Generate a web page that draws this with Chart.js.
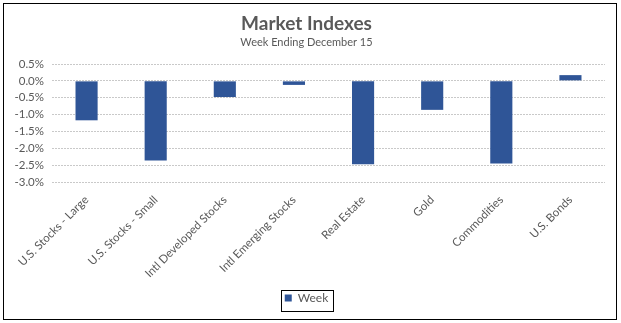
<!DOCTYPE html>
<html>
<head>
<meta charset="utf-8">
<script src="https://cdn.jsdelivr.net/npm/chart.js@4"></script>
<style>
  html, body { margin: 0; padding: 0; background: #fff; }
  #wrap { position: absolute; left: 0; top: 0; width: 621px; height: 323px; }
</style>
</head>
<body>
<div id="wrap"><canvas id="chart" width="621" height="323"></canvas></div>
<script>
// données
const categories = ['U.S. Stocks - Large', 'U.S. Stocks - Small', 'Intl Developed Stocks', 'Intl Emerging Stocks',
  'Real Estate', 'Gold', 'Commodities', 'U.S. Bonds'];
const weekReturns = [-1.17, -2.36, -0.48, -0.12, -2.47, -0.86, -2.45, 0.17];
const yTicks = [0.5, 0.0, -0.5, -1.0, -1.5, -2.0, -2.5, -3.0];

const textColor = '#595959';
const fontFamily = 'Lato, "Open Sans", sans-serif';

// cadre noir autour du graphique + cadre de la légende
const framePlugin = {
  id: 'frame',
  afterDraw(chart) {
    const ctx = chart.ctx;
    ctx.save();
    ctx.strokeStyle = '#000';
    ctx.lineWidth = 1;
    ctx.strokeRect(3.5, 3.5, 613, 316);
    const lg = chart.legend;
    if (lg) {
      ctx.strokeRect(Math.round(lg.left + lg.width / 2 - 26) + 0.5, 290.5, 52, 21);
    }
    ctx.restore();
  }
};

new Chart(document.getElementById('chart'), {
  type: 'bar',
  data: {
    labels: categories,
    datasets: [{
      label: 'Week',
      data: weekReturns,
      backgroundColor: '#2f5597',
      borderWidth: 0,
      categoryPercentage: 1,
      barPercentage: 0.32
    }]
  },
  options: {
    responsive: false,
    animation: false,
    layout: { padding: { left: 8, right: 16, top: 6, bottom: 9 } },
    plugins: {
      title: {
        display: true,
        text: 'Market Indexes',
        color: textColor,
        font: { family: fontFamily, size: 19, weight: 'bold' },
        padding: { top: 6, bottom: 0 }
      },
      subtitle: {
        display: true,
        text: 'Week Ending December 15',
        color: textColor,
        font: { family: fontFamily, size: 11 },
        padding: { top: 1, bottom: 15 }
      },
      legend: {
        position: 'bottom',
        labels: {
          color: textColor,
          font: { family: fontFamily, size: 12 },
          boxWidth: 7,
          boxHeight: 7,
          padding: 8
        }
      },
      tooltip: { enabled: false }
    },
    scales: {
      x: {
        afterFit: (axis) => { axis.height = 102; },
        grid: { display: false },
        border: { display: false },
        ticks: {
          color: textColor,
          font: { family: fontFamily, size: 11.5 },
          minRotation: 45,
          maxRotation: 45,
          autoSkip: false
        }
      },
      y: {
        min: -3,
        max: 0.5,
        afterFit: (axis) => { axis.width = 44; },
        afterBuildTicks: (axis) => { axis.ticks = yTicks.map(v => ({ value: v })); },
        grid: { color: '#c9c9c9', borderDash: [2, 1], drawTicks: false },
        border: { display: false, dash: [2, 1] },
        ticks: {
          color: textColor,
          font: { family: fontFamily, size: 11.5 },
          padding: 8,
          autoSkip: false,
          callback: (v) => v.toFixed(1) + '%'
        }
      }
    }
  },
  plugins: [framePlugin]
});
</script>
</body>
</html>
